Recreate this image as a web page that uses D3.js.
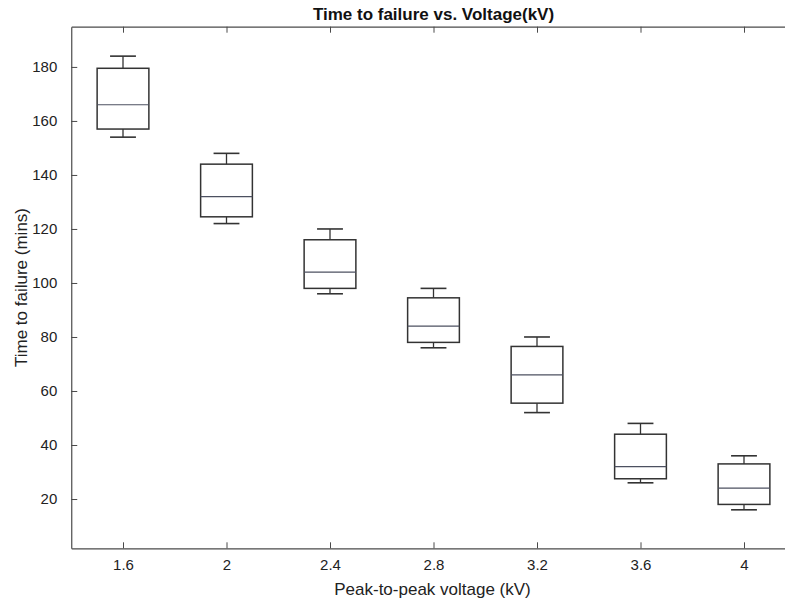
<!DOCTYPE html>
<html>
<head>
<meta charset="utf-8">
<script src="https://cdn.jsdelivr.net/npm/d3@7"></script>
<style>
  html, body { margin: 0; padding: 0; background: #fff; }
  svg { display: block; }
  text { font-family: "Liberation Sans", Arial, sans-serif; }
</style>
</head>
<body>
<svg id="chart" width="785" height="601"></svg>
<script>
// ---- data ----
const categories = ["1.6", "2", "2.4", "2.8", "3.2", "3.6", "4"];
const upperWhisker = [184, 148, 120, 98, 80, 48, 36];
const upperQuartile = [179.5, 144, 116, 94.5, 76.5, 44, 33];
const medians = [166, 132, 104, 84, 66, 32, 24];
const lowerQuartile = [157, 124.5, 98, 78, 55.5, 27.5, 18];
const lowerWhisker = [154, 122, 96, 76, 52, 26, 16];
const yTicks = [20, 40, 60, 80, 100, 120, 140, 160, 180];

const titleText = "Time to failure vs. Voltage(kV)";
const xLabel = "Peak-to-peak voltage (kV)";
const yLabel = "Time to failure (mins)";

// ---- layout ----
const svg = d3.select("#chart");
const mLeft = 71.25, mRight = 795.75, mTop = 26.7, mBottom = 548.3;
const axisColor = "#4a4a4a";
const boxColor = "#333";
const medianColor = "#4c5060";

const x = d3.scaleLinear().domain([0.5, categories.length + 0.5]).range([mLeft, mRight]);
const y = d3.scaleLinear().domain([1.75, 194.9]).range([mBottom, mTop]);

const rows = categories.map((c, i) => ({
  c, pos: i + 1,
  hi: upperWhisker[i], q3: upperQuartile[i], med: medians[i],
  q1: lowerQuartile[i], lo: lowerWhisker[i]
}));

// axes
const xAxisB = d3.axisBottom(x).tickValues(rows.map(d => d.pos))
  .tickFormat((d, i) => categories[i]).tickSizeInner(-6).tickSizeOuter(0).tickPadding(11);
const xAxisT = d3.axisTop(x).tickValues(rows.map(d => d.pos))
  .tickFormat("").tickSizeInner(-6).tickSizeOuter(0);
const yAxisL = d3.axisLeft(y).tickValues(yTicks).tickSizeInner(-6).tickSizeOuter(0).tickPadding(14);

function styleAxis(g) {
  g.select(".domain").attr("stroke", axisColor).attr("stroke-width", 1.2);
  g.selectAll(".tick line").attr("stroke", axisColor).attr("stroke-width", 1);
  g.selectAll(".tick text").attr("fill", "#222").style("font-size", "15px")
    .style("font-family", "'Liberation Sans', Arial, sans-serif");
}

svg.append("g").attr("transform", `translate(0,${mBottom})`).call(xAxisB).call(styleAxis);
svg.append("g").attr("transform", `translate(0,${mTop})`).call(xAxisT).call(styleAxis);
svg.append("g").attr("transform", `translate(${mLeft},0)`).call(yAxisL).call(styleAxis);

// boxes
const bw = x(1.25) - x(1);   // half box width (0.25 units)
const cw = x(1.125) - x(1);  // half cap width
const g = svg.append("g");
const b = g.selectAll("g.box").data(rows).join("g").attr("class", "box");

b.append("line")
  .attr("x1", d => x(d.pos)).attr("x2", d => x(d.pos))
  .attr("y1", d => y(d.hi)).attr("y2", d => y(d.q3))
  .attr("stroke", boxColor).attr("stroke-width", 1.3);
b.append("line")
  .attr("x1", d => x(d.pos)).attr("x2", d => x(d.pos))
  .attr("y1", d => y(d.q1)).attr("y2", d => y(d.lo))
  .attr("stroke", boxColor).attr("stroke-width", 1.3);
b.append("line")
  .attr("x1", d => x(d.pos) - cw).attr("x2", d => x(d.pos) + cw)
  .attr("y1", d => y(d.hi)).attr("y2", d => y(d.hi))
  .attr("stroke", boxColor).attr("stroke-width", 1.6);
b.append("line")
  .attr("x1", d => x(d.pos) - cw).attr("x2", d => x(d.pos) + cw)
  .attr("y1", d => y(d.lo)).attr("y2", d => y(d.lo))
  .attr("stroke", boxColor).attr("stroke-width", 1.6);
b.append("rect")
  .attr("x", d => x(d.pos) - bw).attr("width", 2 * bw)
  .attr("y", d => y(d.q3)).attr("height", d => y(d.q1) - y(d.q3))
  .attr("fill", "none").attr("stroke", boxColor).attr("stroke-width", 1.5);
b.append("line")
  .attr("x1", d => x(d.pos) - bw).attr("x2", d => x(d.pos) + bw)
  .attr("y1", d => y(d.med)).attr("y2", d => y(d.med))
  .attr("stroke", medianColor).attr("stroke-width", 1.2);

// texts
svg.append("text").attr("x", (mLeft + mRight) / 2).attr("y", 20)
  .attr("text-anchor", "middle").style("font-size", "17px").style("font-weight", "bold")
  .attr("fill", "#111").text(titleText);
svg.append("text").attr("x", (mLeft + mRight) / 2 - 1).attr("y", 595)
  .attr("text-anchor", "middle").style("font-size", "17px")
  .attr("fill", "#222").text(xLabel);
svg.append("text").attr("transform", `translate(27,${(mTop + mBottom) / 2}) rotate(-90)`)
  .attr("text-anchor", "middle").style("font-size", "17px")
  .attr("fill", "#222").text(yLabel);
</script>
</body>
</html>
